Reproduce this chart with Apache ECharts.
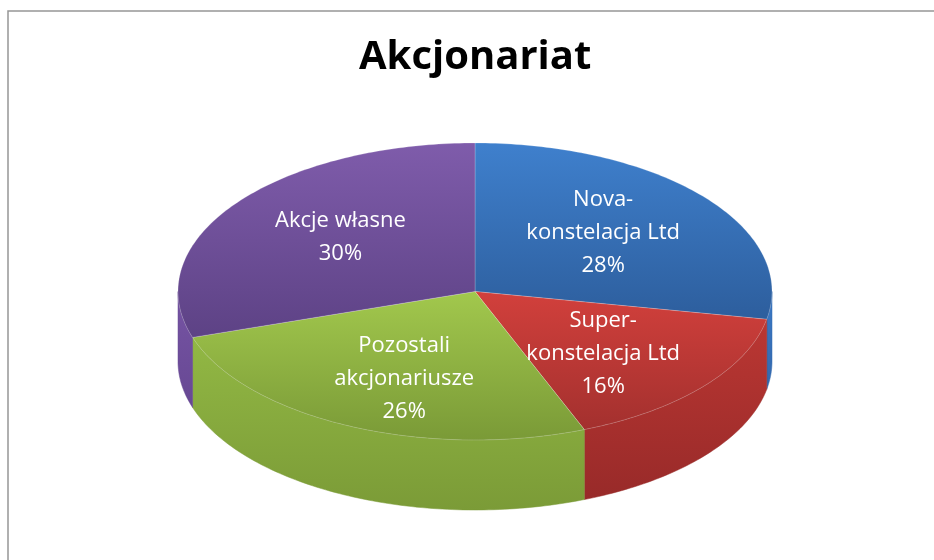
<!DOCTYPE html>
<html>
<head>
<meta charset="utf-8">
<script src="https://cdn.jsdelivr.net/npm/echarts@6/dist/echarts.min.js"></script>
<style>
  html, body { margin: 0; padding: 0; background: #fff; }
  #chart { width: 934px; height: 560px; }
</style>
</head>
<body>
<div id="chart"></div>
<script>
// Slice names (line breaks as in the picture) and their shares
const CATEGORIES = ['Nova-\nkonstelacja Ltd', 'Super-\nkonstelacja Ltd', 'Pozostali\nakcjonariusze', 'Akcje własne'];
const SHARES = [28, 16, 26, 30];

// Top face / side wall colours (light, dark) per slice
const TOP_COLORS = [['#3f80cd', '#2d5e9d'], ['#d2403c', '#a3302e'], ['#a2c84d', '#7a9a37'], ['#7f5cab', '#5d4285']];
const SIDE_COLORS = [['#3b79c6', '#3368ad'], ['#bb3733', '#982a29'], ['#92b844', '#7b9b37'], ['#7654a4', '#674893']];

// Layout of the tilted pie
const CX = 475, CY = 291.5, RX = 297, RY = 148.5, DEPTH = 70;

const TOTAL = SHARES.reduce((a, b) => a + b, 0);
const STARTS = [];
SHARES.reduce((acc, v, i) => { STARTS[i] = acc; return acc + v; }, 0);

// angle measured clockwise from 12 o'clock
function pt(a, dy) {
  return [CX + RX * Math.sin(a), CY - RY * Math.cos(a) + (dy || 0)];
}
function arc(a0, a1, dy) {
  const pts = [];
  const n = Math.max(2, Math.ceil((a1 - a0) / (Math.PI / 180)));
  for (let k = 0; k <= n; k++) pts.push(pt(a0 + (a1 - a0) * k / n, dy));
  return pts;
}
function grad(c) {
  return new echarts.graphic.LinearGradient(0, 0, 0, 1, [
    { offset: 0, color: c[0] }, { offset: 1, color: c[1] }
  ]);
}

function renderItem(params, api) {
  const i = params.dataIndex;
  const v = api.value(0);
  const a0 = STARTS[i] / TOTAL * Math.PI * 2;
  const a1 = (STARTS[i] + v) / TOTAL * Math.PI * 2;
  const children = [];

  // front wall (only the lower half is visible)
  const w0 = Math.max(a0, Math.PI / 2), w1 = Math.min(a1, Math.PI * 1.5);
  if (w1 > w0) {
    const pts = arc(w0, w1, 0).concat(arc(w0, w1, DEPTH).reverse());
    children.push({
      type: 'polygon', z2: 1,
      shape: { points: pts },
      style: { fill: grad(SIDE_COLORS[i]), stroke: SIDE_COLORS[i][1], lineWidth: 0.5 }
    });
  }

  // top face
  const top = [[CX, CY]].concat(arc(a0, a1, 0));
  children.push({
    type: 'polygon', z2: 2,
    shape: { points: top },
    style: { fill: grad(TOP_COLORS[i]), stroke: 'rgba(255,255,255,0.25)', lineWidth: 0.8 }
  });

  // label
  const mid = (a0 + a1) / 2;
  children.push({
    type: 'text', z2: 3,
    x: CX + RX * Math.sin(mid) * 0.56,
    y: 293 - RY * Math.cos(mid) * 0.64,
    style: {
      text: CATEGORIES[i] + '\n' + Math.round(v / TOTAL * 100) + '%',
      fill: '#ffffff',
      fontFamily: 'Open Sans',
      fontSize: 22,
      lineHeight: 33,
      align: 'center',
      verticalAlign: 'middle'
    }
  });

  return { type: 'group', children: children };
}

const chart = echarts.init(document.getElementById('chart'), null, { renderer: 'canvas' });
chart.setOption({
  backgroundColor: '#ffffff',
  animation: false,
  title: {
    text: 'Akcjonariat',
    left: 359,
    top: 38,
    padding: 0,
    textStyle: { fontFamily: 'Open Sans', fontWeight: 'bold', fontSize: 40, color: '#000' }
  },
  graphic: [{
    type: 'rect',
    shape: { x: 8, y: 11, width: 1200, height: 1000 },
    style: { fill: 'none', stroke: '#969696', lineWidth: 1.5 }
  }],
  series: [{
    type: 'custom',
    coordinateSystem: 'none',
    renderItem: renderItem,
    data: SHARES.map((v, i) => ({ name: CATEGORIES[i], value: [v] }))
  }]
});
</script>
</body>
</html>
